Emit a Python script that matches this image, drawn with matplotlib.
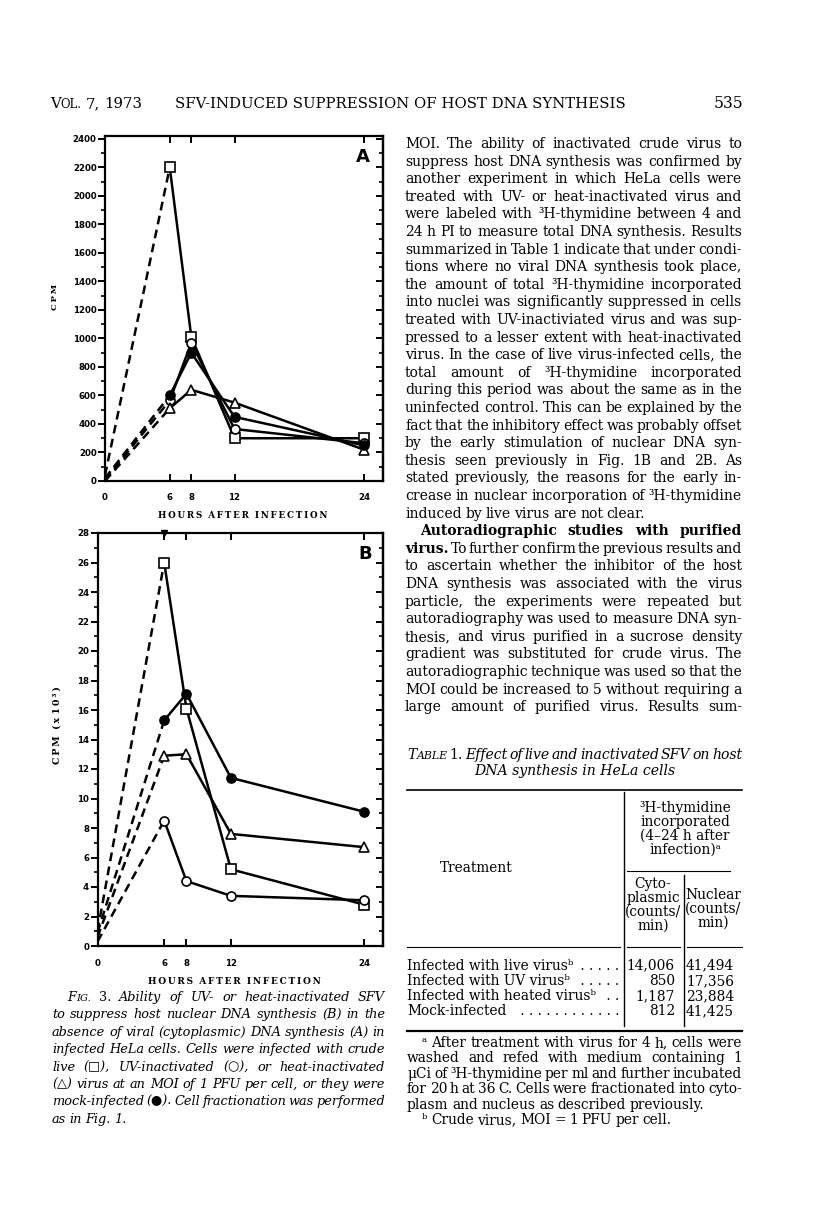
import matplotlib
matplotlib.use("Agg")
import matplotlib.pyplot as plt
from matplotlib.transforms import IdentityTransform
from matplotlib.ticker import MultipleLocator

W, H = 816, 1231
SERIF = ['DejaVu Serif', 'DejaVu Sans']
SANS = 'DejaVu Sans'
plt.rcParams['font.family'] = SERIF

hours = [0, 6, 8, 12, 24]

# panel A: cytoplasmic CPM
a_live = [40, 2200, 1010, 300, 300]
a_uv = [10, 565, 970, 365, 265]
a_heat = [0, 510, 640, 550, 220]
a_mock = [20, 600, 900, 450, 250]

# panel B: nuclear CPM (x 10^3)
b_live = [1.0, 26.0, 16.1, 5.2, 2.8]
b_uv = [0.3, 8.5, 4.4, 3.4, 3.1]
b_heat = [0.6, 12.9, 13.0, 7.6, 6.7]
b_mock = [0.9, 15.3, 17.1, 11.4, 9.1]

# table 1
treatments = ["Infected with live virusᵇ", "Infected with UV virusᵇ",
              "Infected with heated virusᵇ", "Mock-infected"]
cyto_counts = [14006, 850, 1187, 812]
nuclear_counts = [41494, 17356, 23884, 41425]

body_lines = [
    "MOI. The ability of inactivated crude virus to",
    "suppress host DNA synthesis was confirmed by",
    "another experiment in which HeLa cells were",
    "treated with UV- or heat-inactivated virus and",
    "were labeled with ³H-thymidine between 4 and",
    "24 h PI to measure total DNA synthesis. Results",
    "summarized in Table 1 indicate that under condi-",
    "tions where no viral DNA synthesis took place,",
    "the amount of total ³H-thymidine incorporated",
    "into nuclei was significantly suppressed in cells",
    "treated with UV-inactiviated virus and was sup-",
    "pressed to a lesser extent with heat-inactivated",
    "virus. In the case of live virus-infected cells, the",
    "total amount of ³H-thymidine incorporated",
    "during this period was about the same as in the",
    "uninfected control. This can be explained by the",
    "fact that the inhibitory effect was probably offset",
    "by the early stimulation of nuclear DNA syn-",
    "thesis seen previously in Fig. 1B and 2B. As",
    "stated previously, the reasons for the early in-",
    "crease in nuclear incorporation of ³H-thymidine",
    "induced by live virus are not clear.",
    "**Autoradiographic** **studies** **with** **purified**",
    "**virus.** To further confirm the previous results and",
    "to ascertain whether the inhibitor of the host",
    "DNA synthesis was associated with the virus",
    "particle, the experiments were repeated but",
    "autoradiography was used to measure DNA syn-",
    "thesis, and virus purified in a sucrose density",
    "gradient was substituted for crude virus. The",
    "autoradiographic technique was used so that the",
    "MOI could be increased to 5 without requiring a",
    "large amount of purified virus. Results sum-",
]

caption_lines = [
    "Ability of UV- or heat-inactivated SFV",
    "to suppress host nuclear DNA synthesis (B) in the",
    "absence of viral (cytoplasmic) DNA synthesis (A) in",
    "infected HeLa cells. Cells were infected with crude",
    "live (□), UV-inactivated (○), or heat-inactivated",
    "(△) virus at an MOI of 1 PFU per cell, or they were",
    "mock-infected (●). Cell fractionation was performed",
    "as in Fig. 1.",
]

foot_lines = [
    "ᵃ After treatment with virus for 4 h, cells were",
    "washed and refed with medium containing 1",
    "μCi of ³H-thymidine per ml and further incubated",
    "for 20 h at 36 C. Cells were fractionated into cyto-",
    "plasm and nucleus as described previously.",
    "ᵇ Crude virus, MOI = 1 PFU per cell.",
]

fig = plt.figure(figsize=(W / 100, H / 100), dpi=100)
R = fig.canvas.get_renderer()


def ptext(x, y, s, **kw):
    # x, y in image pixels measured from the top-left corner
    return fig.text(x, H - y, s, transform=IdentityTransform(), **kw)


def measure(s, **kw):
    t = ptext(0, 0, s, **kw)
    w = t.get_window_extent(R).width
    t.remove()
    return w


def need(line, width, style='normal', gap_em=0.2):
    # font size that lets the words of a line fit with a minimal word gap
    words = line.replace('**', '').split(' ')
    w = sum(measure(s, size=10, style=style) for s in words)
    w += (len(words) - 1) * gap_em * 10 * 100 / 72
    return 10 * width / w


def draw_line(words, x0, x1, y, size, style='normal', justify=True):
    # words: list of word strings or lists of (text, props) pieces
    groups = []
    for w in words:
        pieces = w if isinstance(w, list) else [(w, {})]
        g = []
        for s, extra in pieces:
            p = dict(size=size, style=style, weight='normal', va='baseline')
            if s.startswith('**') and s.endswith('**'):
                s = s[2:-2]
                p['weight'] = 'bold'
            p.update(extra)
            t = ptext(0, y, s, **p)
            g.append((t, t.get_window_extent(R).width))
        groups.append(g)
    total = sum(w for g in groups for _, w in g)
    if justify and len(groups) > 1:
        gap = (x1 - x0 - total) / (len(groups) - 1)
    else:
        gap = size * 0.36
    x = x0
    for g in groups:
        for t, w in g:
            t.set_x(x)
            x += w
        x += gap


def small_caps(word, size):
    return [(word[0], {}), (word[1:].upper(), {'size': size * 0.78})]


def fit(s, width, **kw):
    return 10 * width / measure(s, size=10, **kw)


# ---------------- header ----------------
hs = fit("SFV-INDUCED SUPPRESSION OF HOST DNA SYNTHESIS", 445)
draw_line([small_caps("Vol.", hs), "7,", "1973"], 50, 130, 108, hs, justify=False)
ptext(175, 108, "SFV-INDUCED SUPPRESSION OF HOST DNA SYNTHESIS", size=hs, va='baseline')
ptext(743, 108, "535", size=hs * 1.05, va='baseline', ha='right')

# ---------------- right column text ----------------
bs = min(need(l, 337) for l in body_lines if '**' not in l)
for i, line in enumerate(body_lines):
    y = 148 + i * 17.6
    x0 = 420 if i == 22 else 405
    draw_line(line.split(' '), x0, 742, y, bs, justify=(i != 21))

# ---------------- caption ----------------
cs = min(need(l, 333, style='italic') for l in caption_lines[1:-1])
first = [small_caps("Fig.", cs), [("3.", {'style': 'normal'})]] + caption_lines[0].split(' ')
draw_line(first, 67, 385, 1001, cs, style='italic')
for i, line in enumerate(caption_lines[1:], start=1):
    draw_line(line.split(' '), 52, 385, 1001 + i * 17.4, cs, style='italic',
              justify=(i != len(caption_lines) - 1))

# ---------------- table ----------------
fs = min(need(l, 335) for l in foot_lines[1:4])
ts = fs * 1.02
tcap = [small_caps("Table", ts), [("1.", {'style': 'normal'})]] + \
    "Effect of live and inactivated SFV on host".split(' ')
draw_line(tcap, 407, 742, 759, ts, style='italic')
ptext(575, 775, "DNA synthesis in HeLa cells", size=ts, style='italic', va='baseline', ha='center')


def hline(x0, x1, y, lw=1.0):
    fig.add_artist(plt.Line2D([x0 / W, x1 / W], [1 - y / H, 1 - y / H], color='k', lw=lw))


def vline(x, y0, y1, lw=1.0):
    fig.add_artist(plt.Line2D([x / W, x / W], [1 - y0 / H, 1 - y1 / H], color='k', lw=lw))


hline(407, 742, 790, 1.2)
vline(624, 792, 1026, 1.0)
vline(684, 875, 1026, 1.0)
hline(627, 730, 871, 0.8)
hline(407, 620, 947, 0.8)
hline(627, 680, 947, 0.8)
hline(687, 742, 947, 0.8)
hline(407, 742, 1031, 1.6)

for k, s in enumerate(["³H-thymidine", "incorporated", "(4–24 h after", "infection)ᵃ"]):
    ptext(685, 812 + k * 14, s, size=fs, ha='center', va='baseline')
ptext(476, 872, "Treatment", size=fs, ha='center', va='baseline')
for k, s in enumerate(["Cyto-", "plasmic", "(counts/", "min)"]):
    ptext(653, 888 + k * 14, s, size=fs, ha='center', va='baseline')
for k, s in enumerate(["Nuclear", "(counts/", "min)"]):
    ptext(713, 899 + k * 14, s, size=fs, ha='center', va='baseline')

dot_w = measure(" ." * 40, size=fs) / 40
for k, name in enumerate(treatments):
    y = 969.5 + k * 15.3
    t = ptext(407, y, name, size=fs, va='baseline')
    xe = 407 + t.get_window_extent(R).width + 2
    n = int((619 - xe) / dot_w)
    ptext(619, y, " ." * n, size=fs, va='baseline', ha='right')
    ptext(675, y, f"{cyto_counts[k]:,}", size=fs, va='baseline', ha='right')
    ptext(734, y, f"{nuclear_counts[k]:,}", size=fs, va='baseline', ha='right')

for k, line in enumerate(foot_lines):
    x0 = 422 if k in (0, 5) else 407
    draw_line(line.split(' '), x0, 742, 1047 + k * 15.4, fs, justify=(k < 4))


# ---------------- plots ----------------
def panel(rect, series, xmax, ymax, major, minor):
    ax = fig.add_axes(rect)
    for ys, mk, fc in series:
        ax.plot(hours[:2], ys[:2], color='k', lw=1.8, ls=(0, (3.5, 2.2)))
        ax.plot(hours[1:], ys[1:], color='k', lw=1.8)
        ax.plot(hours[1:], ys[1:], ls='none', marker=mk, ms=6.5, mfc=fc, mec='k',
                mew=1.2, zorder=4, clip_on=False)
    ax.set_xlim(0, xmax)
    ax.set_ylim(0, ymax)
    ax.set_xticks(hours)
    ax.set_xticklabels([str(h) for h in hours])
    ax.yaxis.set_major_locator(MultipleLocator(major))
    ax.yaxis.set_minor_locator(MultipleLocator(minor))
    ax.tick_params(axis='x', direction='in', top=True, length=5, width=1.4, pad=9)
    ax.tick_params(axis='y', which='major', direction='out', length=5, width=1.4, pad=1)
    ax.tick_params(axis='y', which='minor', direction='out', length=3, width=1.2)
    sec = ax.secondary_yaxis('right')
    sec.yaxis.set_major_locator(MultipleLocator(major))
    sec.yaxis.set_minor_locator(MultipleLocator(minor))
    sec.tick_params(which='major', direction='in', length=5, width=1.4, labelright=False)
    sec.tick_params(which='minor', direction='in', length=3, width=1.2)
    sec.spines['right'].set_linewidth(1.6)
    for sp in ax.spines.values():
        sp.set_linewidth(1.6)
    for lab in ax.get_xticklabels() + ax.get_yticklabels():
        lab.set_fontfamily(SANS)
        lab.set_fontweight('bold')
        lab.set_fontsize(6.2)
    return ax


def frac(l, t, r, b):
    return [l / W, 1 - b / H, (r - l) / W, (b - t) / H]


ax_a = panel(frac(105, 136, 383, 481),
             [(a_live, 's', 'white'), (a_uv, 'o', 'white'),
              (a_heat, '^', 'white'), (a_mock, 'o', 'black')],
             25.76, 2421, 200, 100)
ax_b = panel(frac(97.5, 533, 383, 946),
             [(b_live, 's', 'white'), (b_uv, 'o', 'white'),
              (b_heat, '^', 'white'), (b_mock, 'o', 'black')],
             25.68, 28, 2, 1)
ax_b.plot([6], [28], marker='v', ms=4, color='k', clip_on=False, zorder=5)

ptext(363, 162, "A", size=13, weight='bold', family=SANS, ha='center', va='baseline')
ptext(365, 559, "B", size=13, weight='bold', family=SANS, ha='center', va='baseline')

TS = '\u2009'
xl = '  '.join(TS.join(w) for w in "HOURS AFTER INFECTION".split())
ptext(243, 516, xl, size=fit(xl, 169, weight='bold'), weight='bold', ha='center', va='center')
ptext(234, 982, xl, size=fit(xl, 175, weight='bold'), weight='bold', ha='center', va='center')
yl = TS.join("CPM")
ptext(55, 297, yl, size=fit(yl, 26, weight='bold'), weight='bold', rotation=90,
      ha='center', va='center')
yl2 = TS.join("CPM") + '  ' + TS.join("(x") + ' ' + TS.join("10³)")
ptext(57, 725, yl2, size=fit(yl2, 78, weight='bold'), weight='bold', rotation=90,
      ha='center', va='center')

fig.savefig("out.png", dpi=100)
